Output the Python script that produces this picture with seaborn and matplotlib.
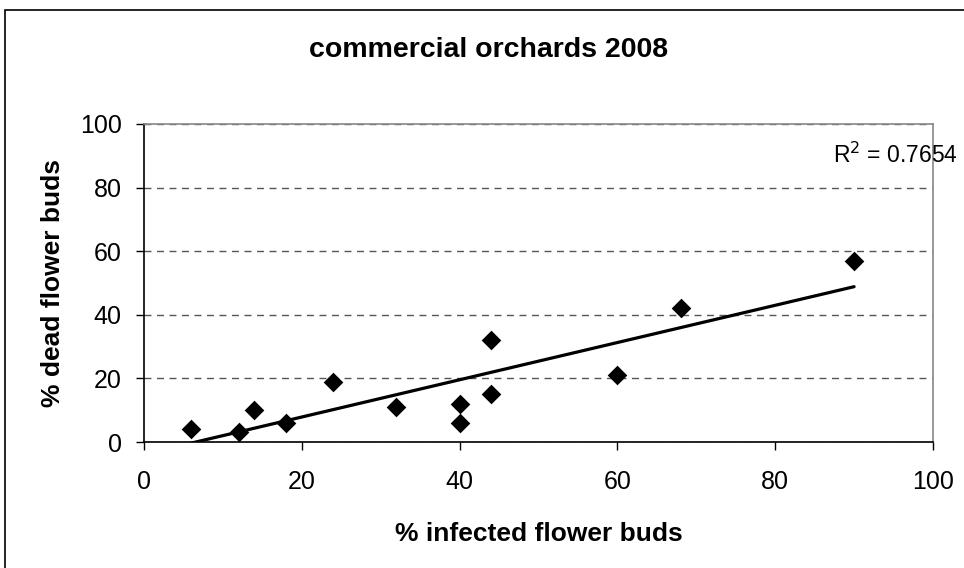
import numpy as np
import pandas as pd
import matplotlib
matplotlib.use("Agg")
import matplotlib.pyplot as plt
from matplotlib.patches import Rectangle
import seaborn as sns

# values
infected = [6, 12, 14, 18, 24, 32, 40, 40, 44, 44, 60, 68, 90]
dead = [4, 3, 10, 6, 19, 11, 12, 6, 32, 15, 21, 42, 57]
title = "commercial orchards 2008"
r2_label = "R$^2$ = 0.7654"
ticks = [0, 20, 40, 60, 80, 100]

df = pd.DataFrame({"infected": infected, "dead": dead})

sns.set_style("white", {"text.color": "black", "axes.labelcolor": "black",
                        "xtick.color": "black", "ytick.color": "black"})
plt.rcParams["font.family"] = ["Liberation Sans", "DejaVu Sans"]

fig = plt.figure(figsize=(9.64, 5.68), dpi=100)
ax = fig.add_axes([144 / 964, 126 / 568, 789 / 964, 318 / 568])

# gridlines (dashed, like Excel)
ax.set_axisbelow(True)
ax.yaxis.grid(True, linestyle=(0, (5, 4)), color="#555555", linewidth=1)

# trendline
sns.regplot(data=df, x="infected", y="dead", scatter=False, ci=None,
            truncate=True, color="black", line_kws={"linewidth": 2.3}, ax=ax)
# points
sns.scatterplot(data=df, x="infected", y="dead", marker="D", s=100,
                color="black", edgecolor="black", linewidth=0, ax=ax,
                zorder=3, clip_on=False)

ax.set_xlim(0, 100)
ax.set_ylim(0, 100)
ax.set_xticks(ticks)
ax.set_yticks(ticks)
ax.tick_params(axis="both", direction="out", length=6, width=1, color="black",
               labelcolor="black", labelsize=18, bottom=True, left=True)
ax.tick_params(axis="x", pad=14)
ax.tick_params(axis="y", pad=10)

for side in ["left", "bottom"]:
    ax.spines[side].set_color("black")
    ax.spines[side].set_linewidth(1.2)
for side in ["top", "right"]:
    ax.spines[side].set_color("#888888")
    ax.spines[side].set_linewidth(1.2)

ax.set_xlabel("% infected flower buds", fontsize=19, fontweight="bold",
              labelpad=20, color="black")
ax.set_ylabel("% dead flower buds", fontsize=19, fontweight="bold",
              labelpad=11, color="black")
fig.text(489 / 964, 1 - 50 / 568, title, ha="center", va="center",
         fontsize=20.5, fontweight="bold", color="black")
fig.text(958 / 964, 1 - 155 / 568, r2_label, ha="right", va="center",
         fontsize=16.5, color="black")

# outer chart frame
fig.patches.append(Rectangle((5 / 964, -0.1), 1.2, 1 - 10 / 568 + 0.1,
                             transform=fig.transFigure, fill=False,
                             edgecolor="black", linewidth=1.2))

fig.savefig("out.png", dpi=100, facecolor="white")
